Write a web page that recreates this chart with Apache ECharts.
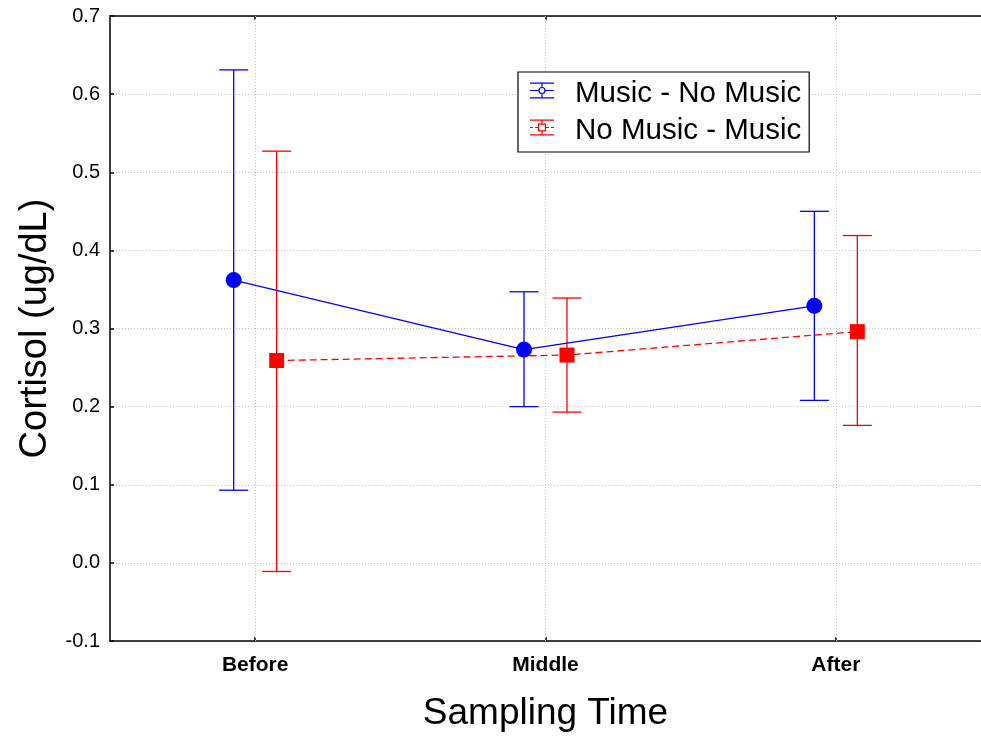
<!DOCTYPE html>
<html>
<head>
<meta charset="utf-8">
<script src="https://cdn.jsdelivr.net/npm/echarts@6/dist/echarts.min.js"></script>
<style>
html,body{margin:0;padding:0;background:#fff;}
#chart{width:981px;height:744px;}
</style>
</head>
<body>
<div id="chart"></div>
<script>
// ---- data ----
const categories = ['Before', 'Middle', 'After'];
const seriesNames = ['Music - No Music', 'No Music - Music'];
const musicNoMusicMean = [0.362, 0.273, 0.329];
const musicNoMusicLow  = [0.093, 0.200, 0.208];
const musicNoMusicHigh = [0.631, 0.347, 0.450];
const noMusicMusicMean = [0.259, 0.266, 0.296];
const noMusicMusicLow  = [-0.011, 0.193, 0.176];
const noMusicMusicHigh = [0.527, 0.339, 0.419];
const yMin = -0.1, yMax = 0.7, yStep = 0.1;

// ---- styling ----
const FONT = 'Liberation Sans, Arial, Helvetica, sans-serif';
const BLUE = '#0000ff', RED = '#ff0000';
const OFFSET = 0.074;       // horizontal dodge of the two groups (category units)
const CAP = 14.5;           // half width of error bar caps (px)

function pts(mean, off) { return mean.map((v, i) => [i + off, v]); }
function bars(low, high, off) { return low.map((v, i) => [i + off, v, high[i]]); }

function errorBar(params, api) {
  const x = api.value(0);
  const lo = api.coord([x, api.value(1)]);
  const hi = api.coord([x, api.value(2)]);
  const style = { stroke: api.visual('color'), lineWidth: 1.3 };
  return {
    type: 'group',
    children: [
      { type: 'line', shape: { x1: lo[0], y1: lo[1], x2: hi[0], y2: hi[1] }, style: style },
      { type: 'line', shape: { x1: lo[0] - CAP, y1: lo[1], x2: lo[0] + CAP, y2: lo[1] }, style: style },
      { type: 'line', shape: { x1: hi[0] - CAP, y1: hi[1], x2: hi[0] + CAP, y2: hi[1] }, style: style }
    ]
  };
}

const iconBlue = 'path://M0 0H24V1.2H0Z M0 14.8H24V16H0Z M11.4 1.2H12.6V4.4H11.4Z M11.4 11.6H12.6V14.8H11.4Z M0 7.4H8.4V8.6H0Z M15.6 7.4H24V8.6H15.6Z M15.6 8A3.6 3.6 0 1 0 8.4 8A3.6 3.6 0 1 0 15.6 8Z M14.4 8A2.4 2.4 0 1 1 9.6 8A2.4 2.4 0 1 1 14.4 8Z';
const iconRed = 'path://M0 0H24V1.2H0Z M0 14.8H24V16H0Z M11.4 1.2H12.6V4H11.4Z M11.4 12H12.6V14.8H11.4Z M0 7.4H3V8.6H0Z M5 7.4H8V8.6H5Z M16 7.4H19V8.6H16Z M21 7.4H24V8.6H21Z M8 4H16V12H8Z M9.2 5.2V10.8H14.8V5.2Z';

const gridLine = { color: '#c4c4c4', width: 1, type: [1, 2] };
const axisLine = { show: true, onZero: false, lineStyle: { color: '#000', width: 1.5 } };

const chart = echarts.init(document.getElementById('chart'), null, { renderer: 'canvas' });
chart.setOption({
  animation: false,
  backgroundColor: '#fff',
  textStyle: { fontFamily: FONT },
  grid: { left: 110, top: 16, right: -6, bottom: 103, containLabel: false },
  legend: {
    orient: 'vertical',
    left: 518, top: 72,
    padding: [0, 8, 6, 12],
    itemGap: 0,
    itemWidth: 24, itemHeight: 16,
    backgroundColor: '#fff',
    borderColor: '#000', borderWidth: 1.2,
    itemStyle: { borderWidth: 0 },
    formatter: name => '{t|' + name + '}',
    textStyle: {
      fontFamily: FONT, fontSize: 29.5, color: '#000', padding: [0, 0, 0, 16],
      rich: { t: { fontFamily: FONT, fontSize: 29.5, lineHeight: 29, color: '#000', padding: [7, 0, 0, 0] } }
    },
    data: [
      { name: seriesNames[0], icon: iconBlue },
      { name: seriesNames[1], icon: iconRed }
    ]
  },
  xAxis: [
    {
      type: 'category', position: 'bottom', data: categories, boundaryGap: true,
      axisLine: axisLine,
      axisTick: { show: true, inside: true, alignWithLabel: true, length: 4, lineStyle: { color: '#000', width: 1.5 } },
      axisLabel: { fontFamily: FONT, fontSize: 21, fontWeight: 'bold', color: '#000', margin: 14 },
      splitLine: { show: false },
      name: 'Sampling Time', nameLocation: 'middle', nameGap: 54,
      nameTextStyle: { fontFamily: FONT, fontSize: 37, color: '#000' }
    },
    {
      type: 'category', position: 'top', data: categories, boundaryGap: true,
      axisLine: axisLine,
      axisTick: { show: true, inside: true, alignWithLabel: true, length: 4, lineStyle: { color: '#000', width: 1.5 } },
      axisLabel: { show: false },
      splitLine: { show: false }
    },
    {
      type: 'value', min: -0.5, max: 2.5, show: false
    }
  ],
  yAxis: {
    type: 'value', min: yMin, max: yMax, interval: yStep,
    axisLine: axisLine,
    axisTick: { show: true, inside: true, length: 4, lineStyle: { color: '#000', width: 1.5 } },
    axisLabel: { fontFamily: FONT, fontSize: 20, color: '#000', margin: 10, formatter: v => v.toFixed(1) },
    splitLine: { show: true, lineStyle: gridLine },
    name: 'Cortisol (ug/dL)', nameLocation: 'middle', nameGap: 54,
    nameTextStyle: { fontFamily: FONT, fontSize: 38, color: '#000' }
  },
  series: [
    {
      name: 'err-red', type: 'custom', xAxisIndex: 2, z: 2,
      itemStyle: { color: RED },
      renderItem: errorBar,
      encode: { x: 0, y: [1, 2] },
      data: bars(noMusicMusicLow, noMusicMusicHigh, OFFSET),
      markLine: {
        silent: true, symbol: 'none', z: 1,
        label: { show: false },
        lineStyle: gridLine,
        data: categories.map((c, i) => ({ xAxis: i }))
      }
    },
    {
      name: 'err-blue', type: 'custom', xAxisIndex: 2, z: 2,
      itemStyle: { color: BLUE },
      renderItem: errorBar,
      encode: { x: 0, y: [1, 2] },
      data: bars(musicNoMusicLow, musicNoMusicHigh, -OFFSET)
    },
    {
      name: seriesNames[1], type: 'line', xAxisIndex: 2, z: 3,
      symbol: 'rect', symbolSize: 15,
      itemStyle: { color: RED, borderWidth: 0 },
      lineStyle: { color: RED, width: 1.3, type: [7, 4] },
      data: pts(noMusicMusicMean, OFFSET)
    },
    {
      name: seriesNames[0], type: 'line', xAxisIndex: 2, z: 4,
      symbol: 'circle', symbolSize: 16,
      itemStyle: { color: BLUE, borderWidth: 0 },
      lineStyle: { color: BLUE, width: 1.3 },
      data: pts(musicNoMusicMean, -OFFSET)
    }
  ]
});
</script>
</body>
</html>
